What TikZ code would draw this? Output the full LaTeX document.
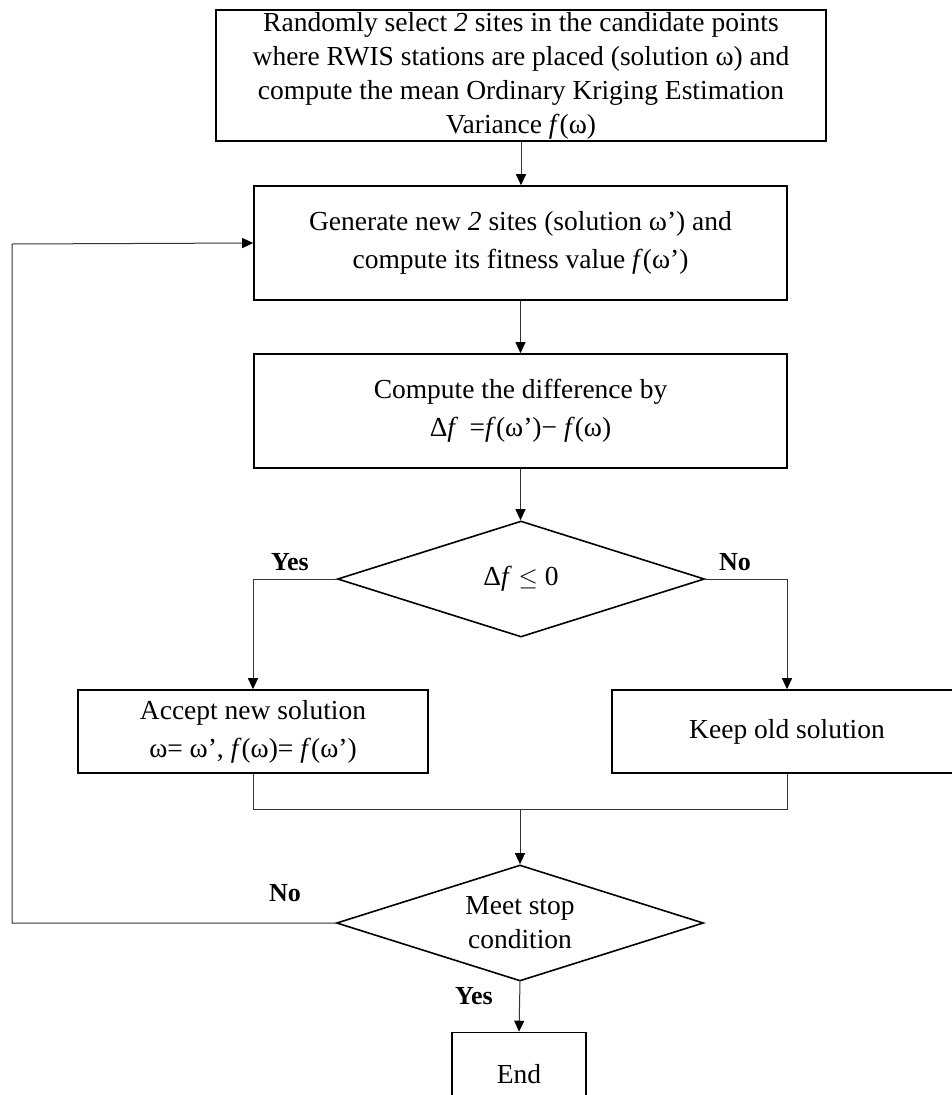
\documentclass[tikz,border=0pt]{standalone}
\usepackage{fontspec}
\setmainfont{Liberation Serif}
\usetikzlibrary{arrows.meta,shapes.geometric}
\begin{document}
\begin{tikzpicture}[x=1pt,y=-1pt,
  box/.style={draw=black,line width=1.6pt,rectangle,inner sep=0pt,align=center,
    font=\fontsize{27.5}{38}\selectfont},
  dia/.style={draw=black,line width=1.6pt,diamond,inner sep=0pt,aspect=3.16,
    minimum width=367pt,minimum height=116pt,align=center,font=\fontsize{27.5}{34}\selectfont},
  conn/.style={draw=black!80,line width=1pt},
  arr/.style={conn,-{Triangle[length=11pt,width=10pt,color=black]}},
  lbl/.style={font=\fontsize{26}{30}\selectfont\bfseries,inner sep=0pt}]
\useasboundingbox (0,0) rectangle (952,1095);
\clip (0,0) rectangle (952,1095);
\node[box,minimum width=610pt,minimum height=131pt,font=\fontsize{27.5}{34}\selectfont] (top) at (521,75.5)
  {Randomly select \textit{2} sites in the candidate points\\
   where RWIS stations are placed (solution ω) and\\
   compute the mean Ordinary Kriging Estimation\\
   Variance \textit{f}(ω)};
\node[box,minimum width=533pt,minimum height=114pt] (gen) at (520.5,243)
  {Generate new \textit{2} sites (solution ω’) and\\ compute its fitness value \textit{f}(ω’)};
\node[box,minimum width=533pt,minimum height=114pt] (diff) at (520.5,411)
  {Compute the difference by\\ Δ\textit{f}\, =\textit{f}(ω’)− \textit{f}(ω)};
\node[dia] (d1) at (521,579) {Δ\textit{f} $\leq$ 0};
\node[box,minimum width=350pt,minimum height=83pt] (acc) at (253,731.5)
  {Accept new solution\\ ω= ω’, \textit{f}(ω)= \textit{f}(ω’)};
\node[box,minimum width=350pt,minimum height=83pt] (keep) at (787,731.5) {Keep old solution};
\node[dia] (d2) at (520,923) {Meet stop\\ condition};
\node[box,minimum width=134pt,minimum height=83pt] (end) at (519,1074) {End};
\coordinate (mid) at (520,809);
\coordinate (loop) at (12,244);
\draw[arr] (top.south) -- (top.south |- gen.north);
\draw[arr] (gen.south) -- (gen.south |- diff.north);
\draw[arr] (diff.south) -- (diff.south |- d1.north);
\draw[arr] (d1.west) -| (acc.north);
\draw[arr] (d1.east) -| (keep.north);
\draw[conn] (acc.south) |- (mid) -| (keep.south);
\draw[arr] (mid) -- (d2.north);
\draw[arr] (d2.west) -| (loop) -- (gen.west);
\draw[arr] (d2.south) -- (end.north);
\node[lbl] (yes1) at (290,562) {Yes};
\node[lbl] (no1) at (735,562) {No};
\node[lbl] (no2) at (285,893) {No};
\node[lbl] (yes2) at (474,996) {Yes};
\end{tikzpicture}
\end{document}
